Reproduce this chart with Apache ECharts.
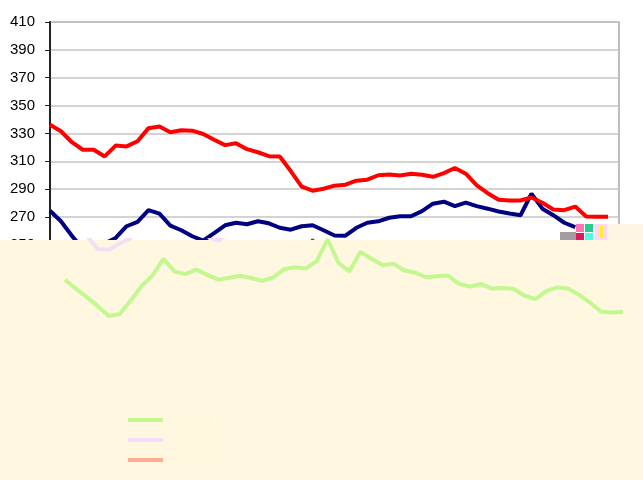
<!DOCTYPE html>
<html>
<head>
<meta charset="utf-8">
<style>
  html, body { margin: 0; padding: 0; background: #fff; }
  #main { width: 643px; height: 480px; }
</style>
<script src="https://cdn.jsdelivr.net/npm/echarts@6/dist/echarts.min.js"></script>
</head>
<body>
<div id="main"></div>
<script>
// weekly points, last slot left empty
var weeks = ['1', '2', '3', '4', '5', '6', '7', '8', '9', '10', '11', '12', '13', '14', '15', '16', '17', '18',
  '19', '20', '21', '22', '23', '24', '25', '26', '27', '28', '29', '30', '31', '32', '33', '34', '35', '36',
  '37', '38', '39', '40', '41', '42', '43', '44', '45', '46', '47', '48', '49', '50', '51', '52', '53']

var yTicks = [250, 270, 290, 310, 330, 350, 370, 390, 410]

var redValues = [336.3, 331.6, 323.7, 318.3, 318.3, 313.5, 321.3, 320.7, 324.4, 333.8, 335, 330.9, 332.3, 332,
  329.6, 325.5, 321.6, 323, 318.7, 316.5, 313.7, 313.5, 303, 291.8, 288.9, 290.3, 292.5, 293.2, 296.1, 296.8,
  300, 300.6, 299.8, 301.1, 300.4, 298.9, 301.5, 305.2, 301.1, 292.8, 287.1, 282.4, 281.9, 281.9, 284, 280.3,
  275.4, 274.9, 277.5, 270.4, 270.2, 270.2]

var blueValues = [274.5, 267, 256.6, 247, 246.5, 251, 255, 263.4, 266.6, 274.9, 272.4, 263.8, 260.5, 256.2, 253,
  258.4, 264.1, 265.9, 264.8, 267, 265.5, 262.3, 260.9, 263.4, 264.1, 260.5, 256.7, 256.6, 262.3, 265.9, 266.9,
  269.5, 270.6, 270.6, 274.2, 279.6, 281, 277.8, 280.3, 277.8, 276, 274, 272.5, 271.3, 286.7, 276, 271.3,
  265.9, 262.7]

var greenValues = [225, 218.5, 212.5, 206, 199, 200.3, 210, 220.5, 228, 240, 231, 229, 232.2, 228.5, 225, 226.4,
  227.8, 226.2, 224.2, 226.5, 232.5, 234, 233, 238.3, 254, 237, 231, 245, 240, 235.5, 236.5, 231.8, 230, 226.8,
  227.5, 228, 222, 220, 222, 218.6, 219, 218.5, 213.5, 211, 217, 219.5, 218.5, 214, 208.5, 202, 201.5, 201.8]

var cream = '#FFF7DF'

function line(name, data, color, width, grid, z) {
  return {
    name: name,
    type: 'line',
    xAxisIndex: grid,
    yAxisIndex: grid,
    data: data,
    symbol: 'none',
    z: z,
    itemStyle: { color: color },
    lineStyle: { color: color, width: width }
  }
}

var myChart = echarts.init(document.getElementById('main'))
myChart.setOption({
  animation: false,
  backgroundColor: '#fff',
  textStyle: { fontFamily: 'Liberation Sans, Arial, sans-serif' },
  legend: {
    orient: 'vertical',
    left: 128,
    top: 413,
    height: 64,
    padding: 0,
    z: 30,
    icon: 'rect',
    itemWidth: 35,
    itemHeight: 4,
    itemGap: 6,
    textStyle: { color: '#FFF5DC', fontSize: 12, lineHeight: 14 },
    data: ['Series 1', 'Series 2', 'Series 3']
  },
  grid: [{
    left: 50,
    right: 24,
    top: 22,
    height: 222.9,
    show: true,
    borderColor: '#A8A8A8',
    borderWidth: 1.5
  }, {
    // the washed-out lower band of the picture, shifted a little to the right
    left: 65,
    right: 9,
    top: 240,
    bottom: 0
  }],
  xAxis: [{
    gridIndex: 0,
    type: 'category',
    boundaryGap: false,
    data: weeks,
    show: false
  }, {
    gridIndex: 1,
    type: 'category',
    boundaryGap: false,
    data: weeks,
    show: false
  }],
  yAxis: [{
    gridIndex: 0,
    type: 'value',
    min: yTicks[0],
    max: yTicks[yTicks.length - 1],
    interval: 20,
    axisLine: { show: true, lineStyle: { color: '#222', width: 2 } },
    axisTick: { show: true, length: 5, lineStyle: { color: '#222' } },
    axisLabel: { color: '#000', fontSize: 15, margin: 15 },
    splitLine: { lineStyle: { color: '#C4C4C4', width: 1.5 } }
  }, {
    gridIndex: 1,
    type: 'value',
    min: 81.2,
    max: 253.5,
    show: false,
    splitLine: { show: false }
  }],
  graphic: [
    { type: 'rect', z: 8, silent: true, shape: { x: 0, y: 240, width: 643, height: 240 }, style: { fill: cream } },
    { type: 'rect', z: 8, silent: true, shape: { x: 606, y: 224, width: 37, height: 16 }, style: { fill: '#FFF5E6' } },
    { type: 'rect', z: 8, silent: true, shape: { x: 560, y: 232, width: 16, height: 8 }, style: { fill: '#A39DA3' } },
    { type: 'rect', z: 8, silent: true, shape: { x: 576, y: 224, width: 8, height: 8 }, style: { fill: '#FF72B4' } },
    { type: 'rect', z: 8, silent: true, shape: { x: 576, y: 233, width: 8, height: 7 }, style: { fill: '#E2165E' } },
    { type: 'rect', z: 8, silent: true, shape: { x: 585, y: 224, width: 8, height: 8 }, style: { fill: '#22D08E' } },
    { type: 'rect', z: 8, silent: true, shape: { x: 585, y: 233, width: 8, height: 7 }, style: { fill: '#4AFCE2' } },
    { type: 'rect', z: 8, silent: true, shape: { x: 595, y: 224, width: 12, height: 16 }, style: { fill: '#FFD6F2' } },
    { type: 'rect', z: 8, silent: true, shape: { x: 600, y: 226, width: 3, height: 12 }, style: { fill: '#FFF21E' } }
  ],
  series: [
    // faded copies drawn in the lower band (listed first so the legend takes their colours)
    line('Series 1', greenValues, '#C3F78F', 4, 1, 20),
    line('Series 2', blueValues, '#F3DDFA', 4, 1, 19),
    line('Series 3', redValues, '#FFAC90', 4, 1, 18),
    // the real lines in the upper plot
    line('Series 1', greenValues, '#0B7A1E', 3, 0, 2),
    line('Series 2', blueValues, '#000080', 4, 0, 3),
    line('Series 3', redValues, '#FF0000', 4, 0, 4)
  ]
})

window.addEventListener('resize', function() {
  myChart.resize()
})
</script>
</body>
</html>
